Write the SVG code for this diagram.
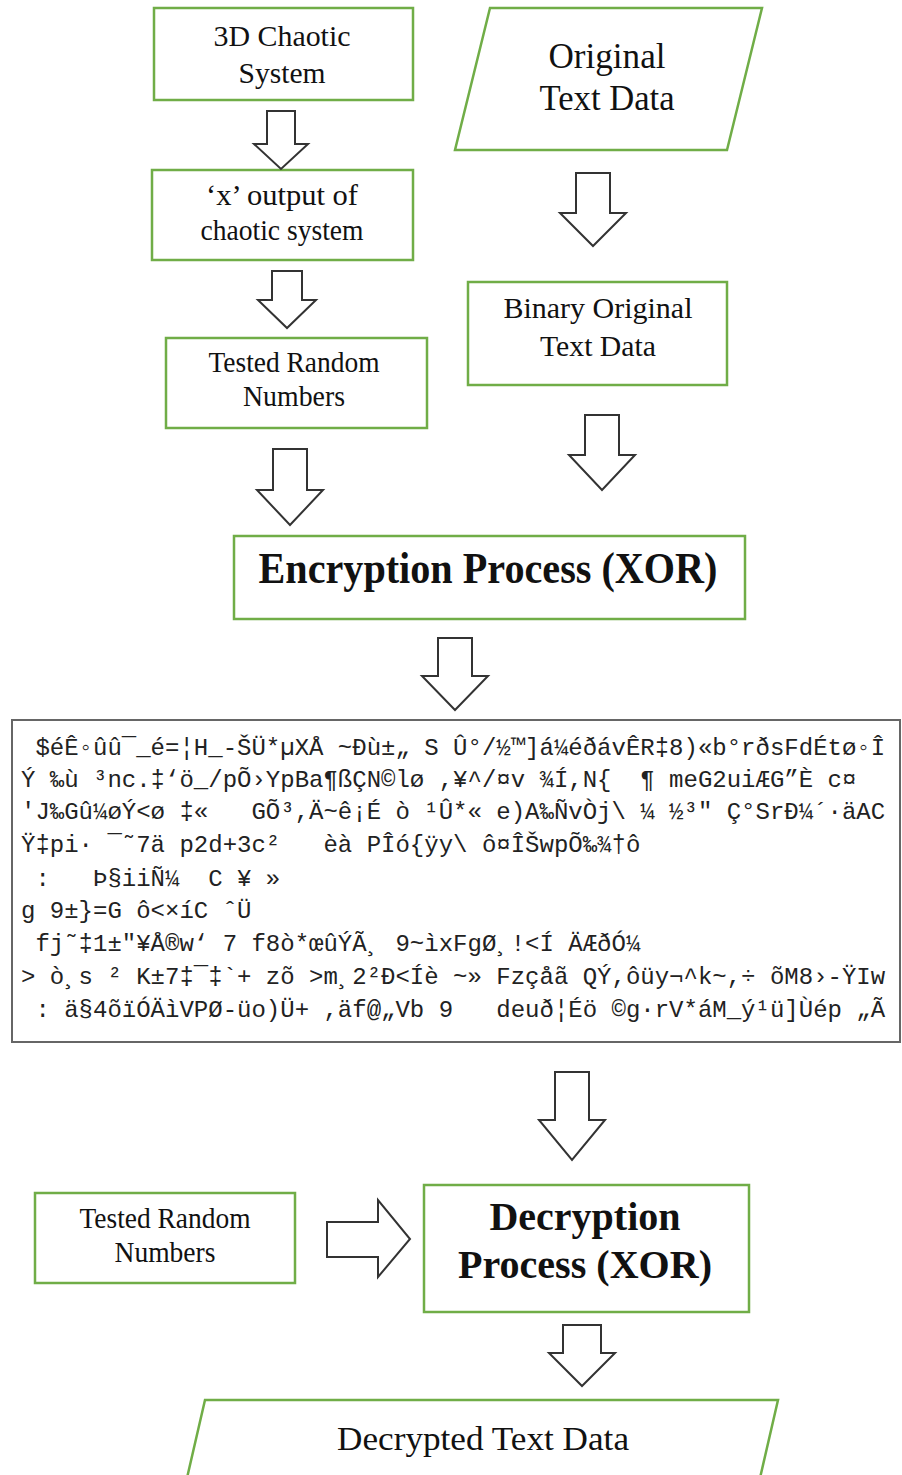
<svg xmlns="http://www.w3.org/2000/svg" width="902" height="1475" viewBox="0 0 902 1475">
<defs>
<style>
.box{fill:#fff;stroke:#70AD47;stroke-width:2.5}
.arw{fill:#fff;stroke:#333;stroke-width:2;stroke-linejoin:miter}
.t{font-family:"Liberation Serif","Times New Roman",serif;fill:#111;text-anchor:middle}
.b{font-weight:bold}
.m{font-family:"Liberation Mono","DejaVu Sans Mono",monospace;font-size:24px;fill:#222;white-space:pre}
</style>
</defs>
<rect width="902" height="1475" fill="#fff"/>

<g id="chaotic">
<rect class="box" x="154" y="8" width="259" height="92"/>
<text class="t" x="282" y="46" font-size="29" textLength="137" lengthAdjust="spacingAndGlyphs">3D Chaotic</text>
<text class="t" x="282" y="83" font-size="29" textLength="87" lengthAdjust="spacingAndGlyphs">System</text>
</g>

<g id="original">
<polygon class="box" points="490,8 762,8 727,150 455,150"/>
<text class="t" x="607" y="68" font-size="36" textLength="117" lengthAdjust="spacingAndGlyphs">Original</text>
<text class="t" x="607" y="110" font-size="36" textLength="135" lengthAdjust="spacingAndGlyphs">Text Data</text>
</g>

<g id="xoutput">
<rect class="box" x="152" y="170" width="261" height="90"/>
<text class="t" x="282" y="205" font-size="29" textLength="152" lengthAdjust="spacingAndGlyphs">‘x’ output of</text>
<text class="t" x="282" y="240" font-size="29" textLength="163" lengthAdjust="spacingAndGlyphs">chaotic system</text>
</g>

<g id="tested1">
<rect class="box" x="166" y="338" width="261" height="90"/>
<text class="t" x="294" y="372" font-size="29" textLength="171" lengthAdjust="spacingAndGlyphs">Tested Random</text>
<text class="t" x="294" y="406" font-size="29" textLength="102" lengthAdjust="spacingAndGlyphs">Numbers</text>
</g>

<g id="binary">
<rect class="box" x="468" y="282" width="259" height="103"/>
<text class="t" x="598" y="318" font-size="29" textLength="189" lengthAdjust="spacingAndGlyphs">Binary Original</text>
<text class="t" x="598" y="356" font-size="29" textLength="116" lengthAdjust="spacingAndGlyphs">Text Data</text>
</g>

<g id="encryption">
<rect class="box" x="234" y="536" width="511" height="83"/>
<text class="t b" x="488" y="583" font-size="44" textLength="459" lengthAdjust="spacingAndGlyphs">Encryption Process (XOR)</text>
</g>

<g id="ciphertext">
<rect x="12" y="720" width="888" height="322" fill="#fff" stroke="#666" stroke-width="2"/>
<text class="m" x="21" y="755" xml:space="preserve"> $éÊ◦ûû¯_é=¦H_-ŠÜ*µXÅ ~Ðù±„ S Û°/½™]á¼éðávÊR‡8)«b°rðsFdÉtø◦Î</text>
<text class="m" x="21" y="787" xml:space="preserve">Ý ‰ù ³nc.‡‘ö_/pÕ›YpBa¶ßÇN©lø ,¥^/¤v ¾Í,N{  ¶ meG2uiÆG”È c¤</text>
<text class="m" x="21" y="819" xml:space="preserve">'J‰Gû¼øÝ&lt;ø ‡«   GÕ³,Ä~ê¡É ò ¹Û*« e)A‰ÑvÒj\ ¼ ½³" Ç°SrÐ¼´·äAC</text>
<text class="m" x="21" y="852" xml:space="preserve">Ÿ‡pi· ¯˜7ä p2d+3c²   èà PÎó{ÿy\ ô¤ÎŠwpÕ‰¾†ô</text>
<text class="m" x="21" y="886" xml:space="preserve"> :   Þ§iiÑ¼  C ¥ »</text>
<text class="m" x="21" y="918" xml:space="preserve">g 9±}=G ô&lt;×íC ˆÜ</text>
<text class="m" x="21" y="951" xml:space="preserve"> fj˜‡1±"¥Å®w‘ 7 f8ò*œûÝÃ¸ 9~ìxFgØ¸!&lt;Í ÄÆðÓ¼</text>
<text class="m" x="21" y="984" xml:space="preserve">&gt; ò¸s ² K±7‡¯‡`+ zõ &gt;m¸2²Ð&lt;Íè ~» Fzçåã QÝ,ôüy¬^k~,÷ õM8›-ŸIw</text>
<text class="m" x="21" y="1017" xml:space="preserve"> : ä§4õïÓÄìVPØ-üo)Ü+ ,äf@„Vb 9   deuð¦Éö ©g·rV*áM_ý¹ü]Ùép „Ã</text>
</g>

<g id="tested2">
<rect class="box" x="35" y="1193" width="260" height="90"/>
<text class="t" x="165" y="1228" font-size="29" textLength="171" lengthAdjust="spacingAndGlyphs">Tested Random</text>
<text class="t" x="165" y="1262" font-size="29" textLength="101" lengthAdjust="spacingAndGlyphs">Numbers</text>
</g>

<g id="decryption">
<rect class="box" x="424" y="1185" width="325" height="127"/>
<text class="t b" x="585" y="1230" font-size="40" textLength="191" lengthAdjust="spacingAndGlyphs">Decryption</text>
<text class="t b" x="585" y="1278" font-size="40" textLength="254" lengthAdjust="spacingAndGlyphs">Process (XOR)</text>
</g>

<g id="decrypted">
<polygon class="box" points="205,1400 778,1400 760,1478 187,1478"/>
<text class="t" x="483" y="1450" font-size="33" textLength="292" lengthAdjust="spacingAndGlyphs">Decrypted Text Data</text>
</g>

<g id="connectors">
<polygon class="arw" points="267,111 295,111 295,144 308,144 281,169 254,144 267,144"/>
<polygon class="arw" points="272,271 302,271 302,300 316,300 287,328 258,300 272,300"/>
<polygon class="arw" points="576,173 610,173 610,213 626,213 593,246 560,213 576,213"/>
<polygon class="arw" points="585,415 619,415 619,455 635,455 602,490 569,455 585,455"/>
<polygon class="arw" points="273,449 307,449 307,490 323,490 290,525 257,490 273,490"/>
<polygon class="arw" points="438,638 472,638 472,676 488,676 455,710 422,676 438,676"/>
<polygon class="arw" points="555,1072 589,1072 589,1120 605,1120 572,1160 539,1120 555,1120"/>
<polygon class="arw" points="327,1222 378,1222 378,1200 410,1239 378,1277 378,1257 327,1257"/>
<polygon class="arw" points="563,1325 601,1325 601,1353 615,1353 582,1386 549,1353 563,1353"/>
</g>
</svg>
